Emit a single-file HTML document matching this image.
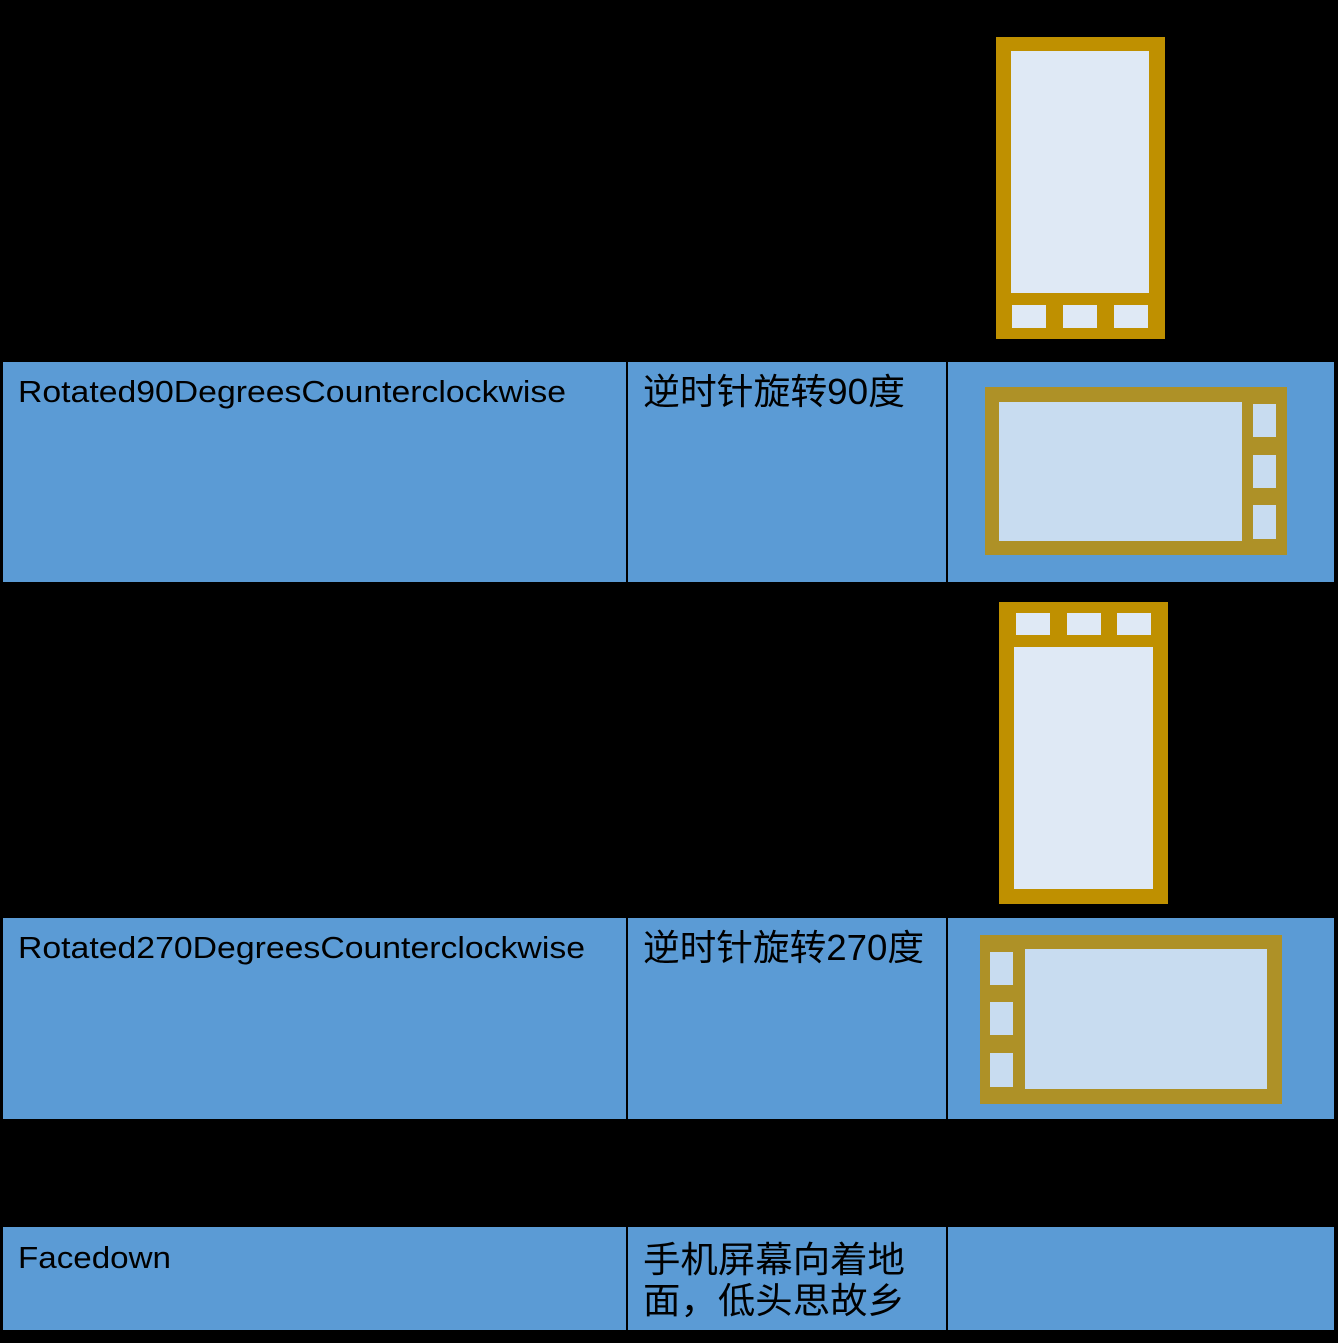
<!DOCTYPE html>
<html><head><meta charset="utf-8"><style>html,body{margin:0;padding:0;background:#000;}svg{display:block}</style></head>
<body>
<svg width="1338" height="1343" viewBox="0 0 1338 1343" xmlns="http://www.w3.org/2000/svg">
<rect width="1338" height="1343" fill="#000"/>
<g fill="#5b9bd5">
<rect x="3" y="362" width="1331" height="220"/>
<rect x="3" y="918" width="1331" height="201"/>
<rect x="3" y="1227" width="1331" height="103"/>
</g>
<g stroke="#000" stroke-width="2">
<line x1="627" y1="362" x2="627" y2="582"/><line x1="947" y1="362" x2="947" y2="582"/>
<line x1="627" y1="918" x2="627" y2="1119"/><line x1="947" y1="918" x2="947" y2="1119"/>
<line x1="627" y1="1227" x2="627" y2="1330"/><line x1="947" y1="1227" x2="947" y2="1330"/>
</g>
<!-- phone 1 -->
<rect x="996" y="37" width="169" height="302" fill="#bf9000"/>
<rect x="1011" y="51" width="138" height="242" fill="#dfe9f5"/>
<g fill="#dfe9f5"><rect x="1012" y="305" width="34" height="23"/><rect x="1063" y="305" width="34" height="23"/><rect x="1114" y="305" width="34" height="23"/></g>
<!-- phone 2 -->
<rect x="985" y="387" width="302" height="168" fill="#ae9127"/>
<rect x="999" y="402" width="243" height="139" fill="#c8dcf0"/>
<g fill="#c8dcf0"><rect x="1253" y="404" width="23" height="33"/><rect x="1253" y="455" width="23" height="33"/><rect x="1253" y="505" width="23" height="34"/></g>
<!-- phone 3 -->
<rect x="999" y="602" width="169" height="302" fill="#bf9000"/>
<rect x="1014" y="647" width="139" height="242" fill="#dfe9f5"/>
<g fill="#dfe9f5"><rect x="1016" y="613" width="34" height="22"/><rect x="1067" y="613" width="34" height="22"/><rect x="1117" y="613" width="34" height="22"/></g>
<!-- phone 4 -->
<rect x="980" y="935" width="302" height="169" fill="#ae9127"/>
<rect x="1025" y="949" width="242" height="140" fill="#c8dcf0"/>
<g fill="#c8dcf0"><rect x="990" y="952" width="23" height="33"/><rect x="990" y="1002" width="23" height="33"/><rect x="990" y="1053" width="23" height="34"/></g>
<g font-family="'Liberation Sans','Noto Sans CJK SC',sans-serif" font-size="31" fill="#000">
<text x="18" y="402" textLength="548" lengthAdjust="spacingAndGlyphs">Rotated90DegreesCounterclockwise</text>
<text x="18" y="958" textLength="567" lengthAdjust="spacingAndGlyphs">Rotated270DegreesCounterclockwise</text>
<text x="18" y="1268" textLength="153" lengthAdjust="spacingAndGlyphs">Facedown</text>
</g>
<g font-family="'Liberation Sans','Noto Sans CJK SC',sans-serif" font-size="36" fill="#000">
<text x="643" y="404" textLength="262" lengthAdjust="spacingAndGlyphs">逆时针旋转90度</text>
<text x="643" y="960" textLength="281" lengthAdjust="spacingAndGlyphs">逆时针旋转270度</text>
<text x="643" y="1272" textLength="262" lengthAdjust="spacingAndGlyphs">手机屏幕向着地</text>
<text x="643" y="1313" textLength="262" lengthAdjust="spacingAndGlyphs">面，低头思故乡</text>
</g>
</svg>
</body></html>
